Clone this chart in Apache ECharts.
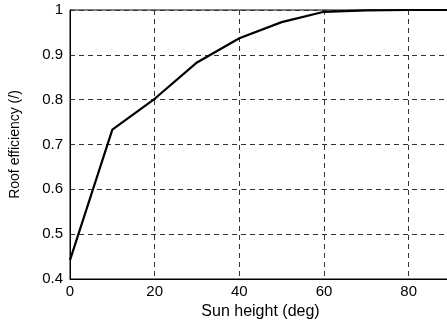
<!DOCTYPE html>
<html>
<head>
<meta charset="utf-8">
<script src="https://cdn.jsdelivr.net/npm/echarts@6/dist/echarts.min.js"></script>
<style>
	html, body { margin: 0; padding: 0; background: #fff; }
	#chart_1 { width: 447px; height: 325px; }
</style>
</head>
<body>
<div id="chart_1"></div>
<script>
// sun height (deg) and roof efficiency
var sunHeight = [0, 10, 20, 30, 40, 50, 60, 70, 80, 90];
var roofEff = [0.442, 0.733, 0.802, 0.883, 0.937, 0.973, 0.996, 0.999, 1.0, 1.0];
var xTicks = [0, 20, 40, 60, 80];
var yTicks = [0.4, 0.5, 0.6, 0.7, 0.8, 0.9, 1];

function makeChart() {
	var myChart = echarts.init(document.getElementById('chart_1'));
	var font = 'Liberation Sans, Arial, sans-serif';
	var dashed = { color: '#333', width: 1, type: [5, 4] };
	var option = {
		backgroundColor: '#fff',
		animation: false,
		grid: {
			left: 70,
			right: -4,
			top: 10,
			bottom: 46,
			outerBoundsMode: 'none',
			containLabel: false,
			show: true,
			borderColor: '#000',
			borderWidth: 1
		},
		xAxis: {
			type: 'value',
			min: 0,
			max: 90,
			interval: 20,
			name: 'Sun height (deg)',
			nameLocation: 'middle',
			nameGap: 23,
			nameTextStyle: { color: '#000', fontSize: 16, fontFamily: font },
			axisLine: { show: true, onZero: false, lineStyle: { color: '#000', width: 1 } },
			axisTick: { show: false },
			axisLabel: {
				color: '#000', fontSize: 15, fontFamily: font, margin: 5,
				showMaxLabel: false,
				formatter: function (v) {
					return xTicks.indexOf(v) >= 0 ? String(v) : '';
				}
			},
			splitLine: { show: true, lineStyle: dashed }
		},
		yAxis: {
			type: 'value',
			min: 0.4,
			max: 1,
			interval: 0.1,
			name: 'Roof efficiency (/)',
			nameLocation: 'middle',
			nameGap: 48,
			nameTextStyle: { color: '#000', fontSize: 14, fontFamily: font },
			axisLine: { show: true, lineStyle: { color: '#000', width: 1 } },
			axisTick: { show: false },
			axisLabel: {
				color: '#000', fontSize: 15, fontFamily: font, margin: 7,
				formatter: function (v) {
					return String(Math.round(v * 10) / 10);
				}
			},
			splitLine: { show: true, lineStyle: dashed }
		},
		series: [{
			type: 'line',
			data: sunHeight.map(function (x, i) { return [x, roofEff[i]]; }),
			showSymbol: false,
			lineStyle: { color: '#000', width: 2.2 },
			z: 5
		}]
	};
	myChart.setOption(option);
}
makeChart();
</script>
</body>
</html>
